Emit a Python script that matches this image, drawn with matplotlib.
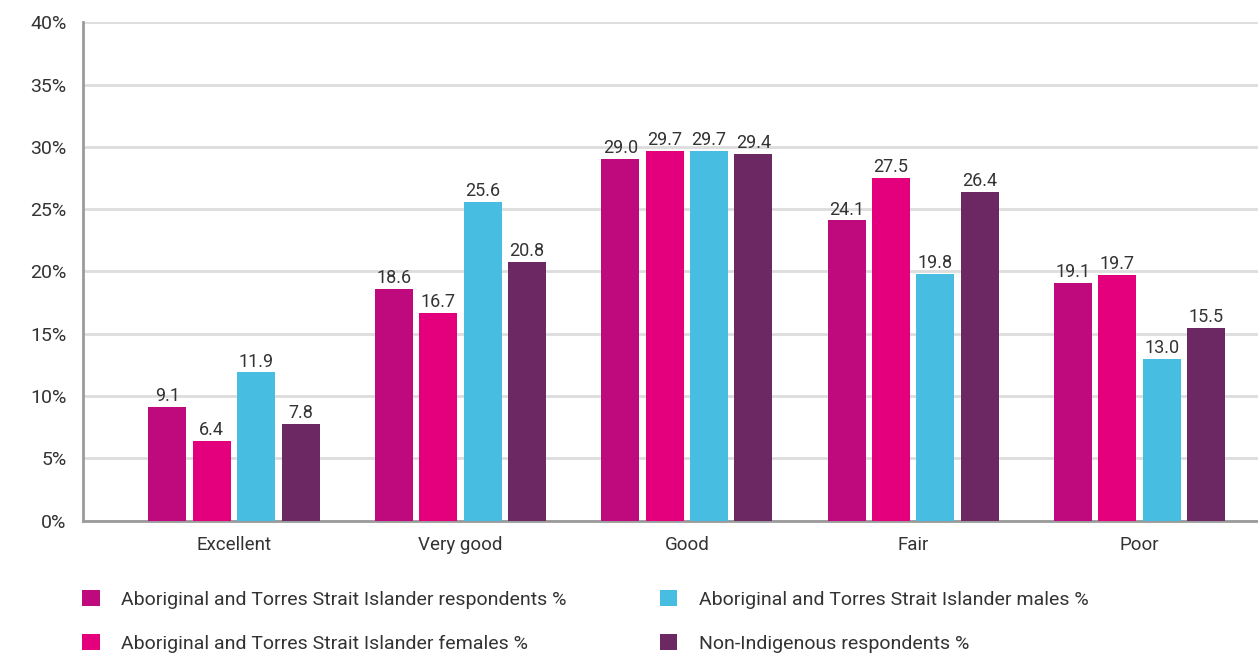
import matplotlib.pyplot as plt
import numpy as np

plt.rcParams['font.family'] = ['Roboto', 'DejaVu Sans']

categories = ['Excellent', 'Very good', 'Good', 'Fair', 'Poor']
respondents = [9.1, 18.6, 29.0, 24.1, 19.1]
females = [6.4, 16.7, 29.7, 27.5, 19.7]
males = [11.9, 25.6, 29.7, 19.8, 13.0]
non_indigenous = [7.8, 20.8, 29.4, 26.4, 15.5]

series = [
    ('Aboriginal and Torres Strait Islander respondents %', respondents, '#BE0A7D'),
    ('Aboriginal and Torres Strait Islander females %', females, '#E4007D'),
    ('Aboriginal and Torres Strait Islander males %', males, '#46BDE1'),
    ('Non-Indigenous respondents %', non_indigenous, '#6B2862'),
]

fig = plt.figure(figsize=(12.58, 6.55), dpi=100)
ax = fig.add_axes([0.066, 0.205, 0.934, 0.761])

x = np.arange(len(categories))
step = 0.196
width = 0.168
txt = '#333333'

handles = []
for i, (name, vals, col) in enumerate(series):
    pos = x + (i - 1.5) * step
    bars = ax.bar(pos, vals, width=width, color=col, label=name, zorder=3)
    handles.append(bars)
    for b, v in zip(bars, vals):
        ax.text(b.get_x() + b.get_width() / 2, v + 0.15, f'{v:.1f}',
                ha='center', va='bottom', fontsize=13, color=txt, zorder=4)

ax.set_xlim(-0.667, 4.523)
ax.set_ylim(0, 40)
ax.set_yticks(range(0, 41, 5))
ax.set_yticklabels([f'{t}%' for t in range(0, 41, 5)], fontsize=14, color=txt)
ax.set_xticks(x)
ax.set_xticklabels(categories, fontsize=13.5, color=txt)
ax.tick_params(axis='both', length=0)
ax.tick_params(axis='y', pad=12)
ax.tick_params(axis='x', pad=11)
ax.grid(axis='y', color='#DDDDDD', linewidth=2, zorder=0)
ax.set_axisbelow(True)
for s in ['top', 'right']:
    ax.spines[s].set_visible(False)
ax.spines['left'].set_color('#9A9A9A')
ax.spines['left'].set_linewidth(2)
ax.spines['bottom'].set_color('#9A9A9A')
ax.spines['bottom'].set_linewidth(2)

# two separate legend columns, placed by hand
leg_kw = dict(loc='upper left', frameon=False, fontsize=14, handlelength=0.9,
              handleheight=0.9, handletextpad=1.1, labelspacing=1.3,
              borderpad=0, borderaxespad=0, labelcolor=txt)
fig.legend(handles[:2], [s[0] for s in series[:2]],
           bbox_to_anchor=(0.0652, 0.099), **leg_kw)
fig.legend(handles[2:], [s[0] for s in series[2:]],
           bbox_to_anchor=(0.5246, 0.099), **leg_kw)

fig.savefig('out.png', dpi=100)
